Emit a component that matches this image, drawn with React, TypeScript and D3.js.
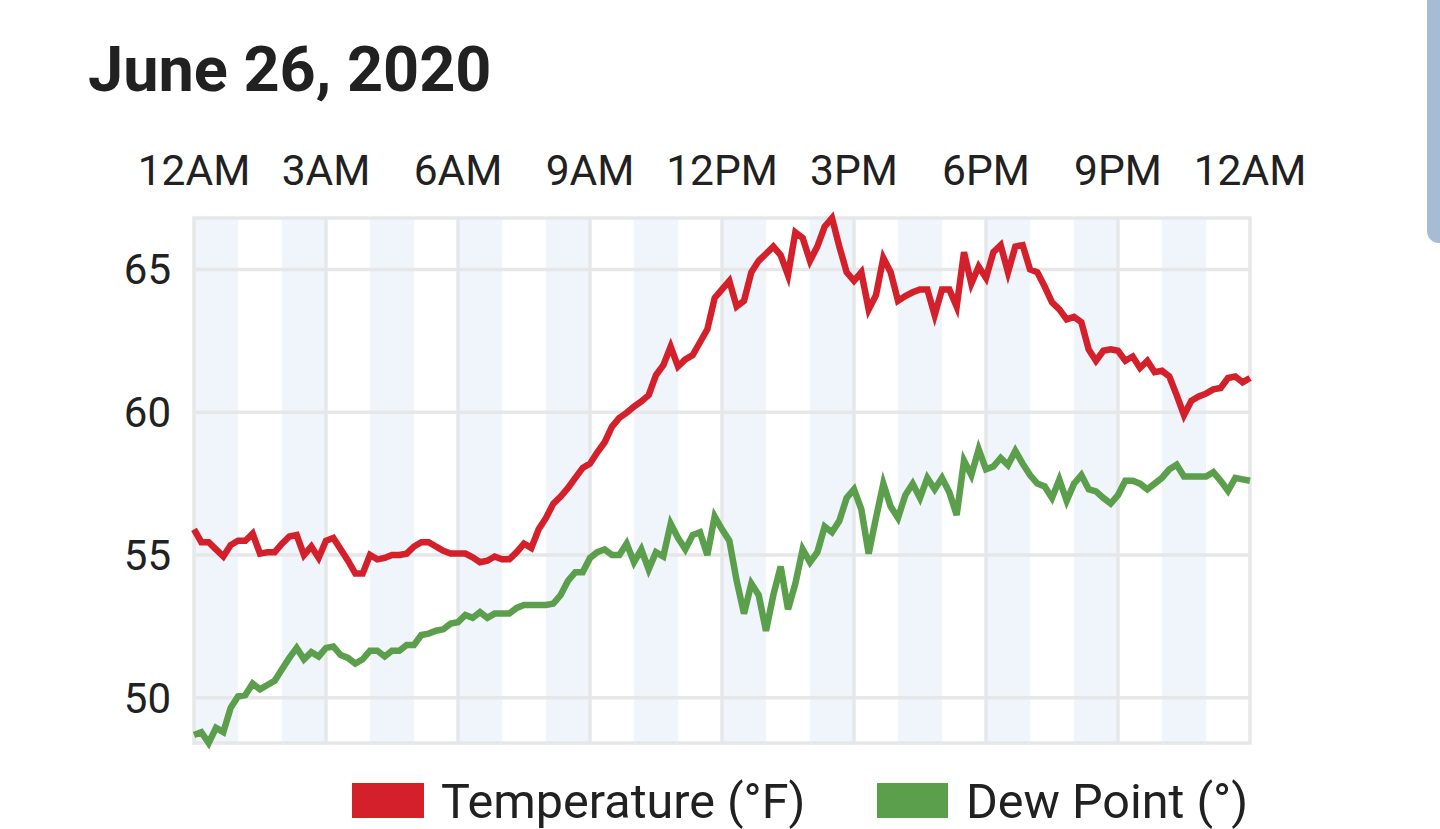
import * as d3 from "d3";

// 10-minute readings, 12AM to 12AM
const temperature = [
  55.9, 55.45, 55.45, 55.2, 54.95, 55.35, 55.5, 55.5, 55.75, 55.05,
  55.1, 55.1, 55.4, 55.65, 55.7, 55.0, 55.3, 54.9, 55.5, 55.6,
  55.2, 54.8, 54.35, 54.35, 55.0, 54.85, 54.9, 55.0, 55.0, 55.05,
  55.3, 55.45, 55.45, 55.3, 55.15, 55.05, 55.05,
  55.05, 54.92, 54.75, 54.8, 54.95, 54.85, 54.85, 55.1, 55.4, 55.25,
  55.9, 56.3, 56.8, 57.05, 57.35, 57.7, 58.05, 58.2, 58.6, 58.95,
  59.5, 59.8, 59.98, 60.2, 60.38, 60.6, 61.3, 61.65, 62.3, 61.6,
  61.85, 62.0, 62.45, 62.9, 64.0, 64.3,
  64.6, 63.7, 63.9, 64.9, 65.3, 65.55, 65.8, 65.5, 64.8, 66.3,
  66.1, 65.3, 65.8, 66.5, 66.8, 65.8, 64.9, 64.6, 64.9, 63.6,
  64.1, 65.4, 64.9, 63.9, 64.07, 64.2, 64.3, 64.3, 63.4, 64.3,
  64.3, 63.7, 65.6, 64.5, 65.1, 64.7,
  65.6, 65.85, 64.9, 65.8, 65.85, 65.0, 64.9, 64.4, 63.85, 63.6,
  63.25, 63.34, 63.15, 62.2, 61.8, 62.15, 62.2, 62.15, 61.8, 61.95,
  61.55, 61.8, 61.4, 61.45, 61.25, 60.6, 59.9, 60.4, 60.55, 60.65,
  60.8, 60.85, 61.2, 61.25, 61.05, 61.2,
];

const dewPoint = [
  48.7, 48.8, 48.42, 48.95, 48.8, 49.65, 50.05, 50.1, 50.5, 50.3,
  50.45, 50.6, 51.0, 51.4, 51.75, 51.35, 51.6, 51.45, 51.75, 51.8,
  51.5, 51.4, 51.2, 51.35, 51.65, 51.65, 51.45, 51.65, 51.65, 51.85,
  51.85, 52.2, 52.25, 52.35, 52.4, 52.6, 52.65,
  52.9, 52.8, 53.0, 52.8, 52.95, 52.95, 52.95, 53.15, 53.25, 53.25,
  53.25, 53.25, 53.3, 53.6, 54.1, 54.4, 54.4, 54.9, 55.1, 55.2,
  55.0, 55.0, 55.4, 54.75, 55.2, 54.5, 55.1, 54.95, 56.1, 55.6,
  55.2, 55.7, 55.8, 55.0, 56.35, 55.9,
  55.5, 54.1, 52.95, 54.0, 53.6, 52.35, 53.6, 54.6, 53.1, 54.0,
  55.2, 54.75, 55.1, 56.0, 55.8, 56.2, 57.0, 57.3, 56.6, 55.05,
  56.3, 57.5, 56.7, 56.3, 57.1, 57.5, 57.0, 57.7, 57.3, 57.7,
  57.2, 56.4, 58.3, 57.8, 58.7, 58.0,
  58.1, 58.4, 58.15, 58.65, 58.2, 57.8, 57.5, 57.4, 57.0, 57.64,
  56.9, 57.5, 57.8, 57.3, 57.23, 57.0, 56.8, 57.1, 57.6, 57.6,
  57.5, 57.3, 57.5, 57.7, 58.0, 58.16, 57.75, 57.75, 57.75, 57.75,
  57.9, 57.6, 57.25, 57.7, 57.65, 57.6,
];

const hourTicks = [0, 3, 6, 9, 12, 15, 18, 21, 24];
const hourLabels = ["12AM", "3AM", "6AM", "9AM", "12PM", "3PM", "6PM", "9PM", "12AM"];
const valueTicks = [50, 55, 60, 65];

const W = 1440;
const H = 829;
const left = 194;
const right = 1250;
const top = 218;
const bottom = 743;

const RED = "#d3202b";
const GREEN = "#5b9e4b";
const GRID = "#e6e7e8";
const BAND = "#eff5fa";
const INK = "#212121";

export default function App() {
  const hours = temperature.map((_, i) => i / 6);
  const [lo, hi] = d3.extent([...temperature, ...dewPoint]) as [number, number];

  const x = d3.scaleLinear().domain([0, 24]).range([left, right]);
  const y = d3.scaleLinear().domain([lo, hi]).range([bottom, top]);

  const line = d3
    .line<number>()
    .x((_, i) => x(hours[i]))
    .y((d) => y(d));

  const bands = d3.range(0, 24, 2);

  return (
    <svg
      width={W}
      height={H}
      style={{ position: "absolute", left: 0, top: 0, fontFamily: "Roboto, sans-serif" }}
    >
      <rect width={W} height={H} fill="#fff" />

      <text x={88} y={91} fontSize={63} fontWeight="bold" fill={INK}>
        June 26, 2020
      </text>

      {/* hour bands */}
      {bands.map((h) => (
        <rect key={h} x={x(h)} y={top} width={x(h + 1) - x(h)} height={bottom - top} fill={BAND} />
      ))}

      {/* grid */}
      {valueTicks.map((v) => (
        <line key={v} x1={left} x2={right} y1={y(v)} y2={y(v)} stroke={GRID} strokeWidth={3.5} />
      ))}
      {hourTicks.slice(1, -1).map((h) => (
        <line key={h} x1={x(h)} x2={x(h)} y1={top} y2={bottom} stroke={GRID} strokeWidth={3.5} />
      ))}
      <rect
        x={left}
        y={top}
        width={right - left}
        height={bottom - top}
        fill="none"
        stroke={GRID}
        strokeWidth={3.5}
      />

      {/* axes labels */}
      {hourTicks.map((h, i) => (
        <text key={i} x={x(h)} y={185} fontSize={42.5} textAnchor="middle" fill={INK}>
          {hourLabels[i]}
        </text>
      ))}
      {valueTicks.map((v) => (
        <text key={v} x={171} y={y(v) + 15} fontSize={42} textAnchor="end" fill={INK}>
          {v}
        </text>
      ))}

      {/* series */}
      <path d={line(temperature) ?? ""} fill="none" stroke={RED} strokeWidth={6.5} strokeLinejoin="miter" />
      <path d={line(dewPoint) ?? ""} fill="none" stroke={GREEN} strokeWidth={6.5} strokeLinejoin="miter" />

      {/* legend */}
      <rect x={352} y={783} width={72} height={35} fill={RED} />
      <text x={441} y={818} fontSize={48.5} fill={INK}>
        Temperature (°F)
      </text>
      <rect x={877} y={783} width={71} height={35} fill={GREEN} />
      <text x={966} y={818} fontSize={48.5} fill={INK}>
        Dew Point (°)
      </text>

      {/* scrollbar thumb */}
      <rect x={1427} y={-14} width={26} height={257} rx={12} fill="#a5bcd5" />
    </svg>
  );
}
